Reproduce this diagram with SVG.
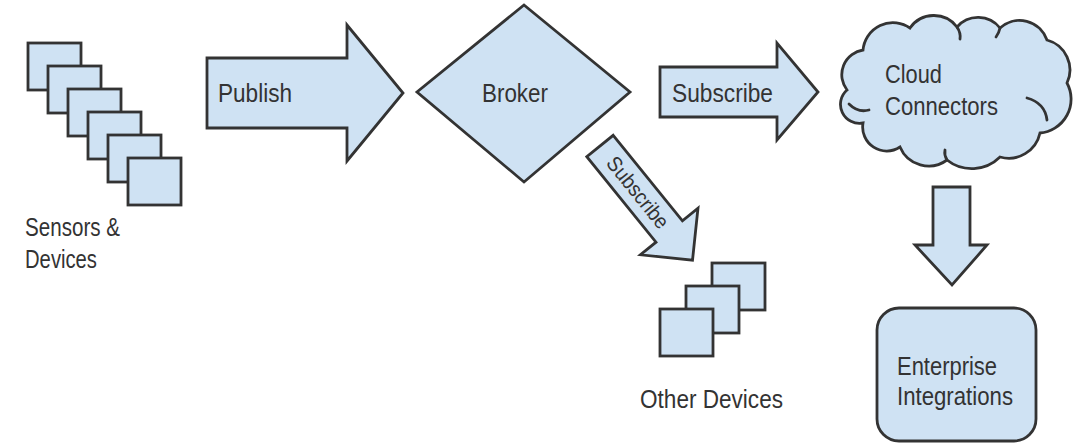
<svg xmlns="http://www.w3.org/2000/svg" width="1080" height="446" viewBox="0 0 1080 446">
  <style>
    .shape { fill: #cfe2f3; stroke: #333333; stroke-width: 2.8; stroke-linejoin: miter; }
    .curl { fill: none; stroke: #333333; stroke-width: 2.8; stroke-linecap: round; }
    .label { font-family: "Liberation Sans", Arial, sans-serif; font-size: 25px; fill: #333333; }
  </style>
  <defs>
    <rect id="device" width="53" height="47"/>
  </defs>
  <rect width="1080" height="446" fill="#ffffff"/>

  <!-- Sensors & Devices: a stack of six overlapping cards -->
  <g id="sensors">
    <use href="#device" class="shape" x="28" y="43"/>
    <use href="#device" class="shape" x="48" y="66"/>
    <use href="#device" class="shape" x="68" y="89"/>
    <use href="#device" class="shape" x="88" y="112"/>
    <use href="#device" class="shape" x="108" y="135"/>
    <use href="#device" class="shape" x="128" y="158"/>
    <text class="label" x="25" y="236" textLength="95" lengthAdjust="spacingAndGlyphs">Sensors &amp;</text>
    <text class="label" x="25" y="268" textLength="72" lengthAdjust="spacingAndGlyphs">Devices</text>
  </g>

  <!-- Broker diamond -->
  <g id="broker">
    <path class="shape" d="M524,5 L630,92 L524,182 L417,92 Z"/>
    <text class="label" x="482" y="102" textLength="66" lengthAdjust="spacingAndGlyphs">Broker</text>
  </g>

  <!-- Cloud Connectors -->
  <g id="cloud">
    <path class="shape" d="M863,50 A30,30 0 0 1 910,28 A29,29 0 0 1 957,27 A28,28 0 0 1 1000,28 A29,29 0 0 1 1047,40 A31,31 0 0 1 1067,83 A34,34 0 0 1 1040,133 A32,32 0 0 1 1000,157 A40,40 0 0 1 947,160 A31,31 0 0 1 900,147 A24,24 0 0 1 863,123 A19,19 0 0 1 847,90 A25,25 0 0 1 863,50 Z"/>
    <path class="curl" d="M849,104 Q858,113 869,110"/>
    <path class="curl" d="M957,27 Q961,33 960,39"/>
    <path class="curl" d="M1000,28 Q999,33 996,37"/>
    <path class="curl" d="M1027,98 Q1045,103 1047,120"/>
    <path class="curl" d="M947,160 Q944,155 945,150"/>
    <text class="label" x="885" y="83" textLength="57" lengthAdjust="spacingAndGlyphs">Cloud</text>
    <text class="label" x="885" y="115" textLength="113" lengthAdjust="spacingAndGlyphs">Connectors</text>
  </g>

  <!-- Other Devices: three overlapping cards -->
  <g id="other-devices">
    <use href="#device" class="shape" x="712" y="263"/>
    <use href="#device" class="shape" x="686" y="286"/>
    <use href="#device" class="shape" x="660" y="309"/>
    <text class="label" x="640" y="408" textLength="143" lengthAdjust="spacingAndGlyphs">Other Devices</text>
  </g>

  <!-- Enterprise Integrations -->
  <g id="enterprise">
    <rect class="shape" x="877" y="308" width="159" height="133" rx="22" ry="22"/>
    <text class="label" x="897" y="375" textLength="100" lengthAdjust="spacingAndGlyphs">Enterprise</text>
    <text class="label" x="897" y="405" textLength="116" lengthAdjust="spacingAndGlyphs">Integrations</text>
  </g>

  <!-- Block-arrow connectors -->
  <g id="connectors">
    <g id="publish">
      <path class="shape" d="M207,58 H347 V25 L403,93 L347,161 V128 H207 Z"/>
      <text class="label" x="218" y="102" textLength="74" lengthAdjust="spacingAndGlyphs">Publish</text>
    </g>
    <g id="subscribe-cloud">
      <path class="shape" d="M660,67 H777 V43 L818,92 L777,140 V117 H660 Z"/>
      <text class="label" x="672" y="102" textLength="101" lengthAdjust="spacingAndGlyphs">Subscribe</text>
    </g>
    <g id="subscribe-devices" transform="translate(600,146) rotate(51)">
      <path class="shape" d="M0,-17 H110 V-37 L147,0 L110,37 V17 H0 Z"/>
      <text class="label" x="60" y="7" text-anchor="middle" style="font-size:21px" textLength="86" lengthAdjust="spacingAndGlyphs">Subscribe</text>
    </g>
    <g id="to-enterprise">
      <path class="shape" d="M933,187 H970 V245 H987 L952,285 L915,245 H933 Z"/>
    </g>
  </g>
</svg>
